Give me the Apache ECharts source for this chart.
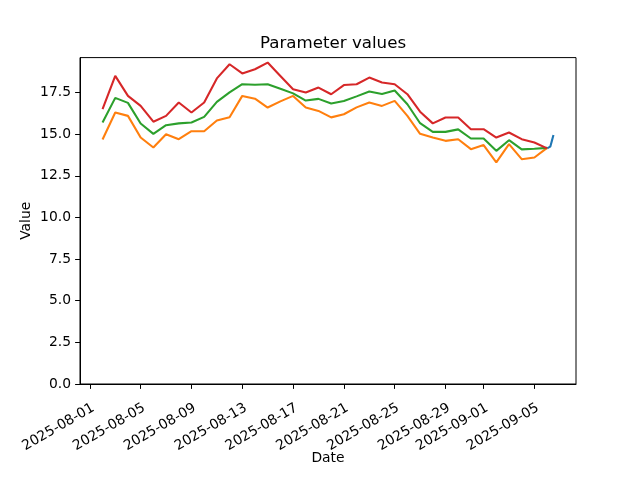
<!DOCTYPE html>
<html>
<head>
<meta charset="utf-8">
<script src="https://cdn.jsdelivr.net/npm/echarts@6/dist/echarts.min.js"></script>
<style>html,body{margin:0;padding:0;background:#fff}#c{width:640px;height:480px}</style>
</head>
<body>
<div id="c"></div>
<script>
const dates = ['2025-08-02','2025-08-03','2025-08-04','2025-08-05','2025-08-06','2025-08-07','2025-08-08','2025-08-09','2025-08-10','2025-08-11','2025-08-12','2025-08-13','2025-08-14','2025-08-15','2025-08-16','2025-08-17','2025-08-18','2025-08-19','2025-08-20','2025-08-21','2025-08-22','2025-08-23','2025-08-24','2025-08-25','2025-08-26','2025-08-27','2025-08-28','2025-08-29','2025-08-30','2025-08-31','2025-09-01','2025-09-02','2025-09-03','2025-09-04','2025-09-05','2025-09-06'];
const redValues = [16.5,18.5,17.3,16.7,15.75,16.1,16.9,16.3,16.9,18.35,19.2,18.65,18.9,19.3,18.5,17.7,17.5,17.8,17.4,17.95,18.0,18.4,18.1,18.0,17.4,16.35,15.65,16.0,16.0,15.3,15.3,14.8,15.1,14.7,14.5,14.15];
const greenValues = [15.7,17.18,16.88,15.64,15.02,15.54,15.65,15.7,16.04,16.94,17.51,18.0,17.97,18.0,17.73,17.45,17.02,17.12,16.84,16.99,17.27,17.56,17.41,17.62,16.8,15.66,15.14,15.14,15.29,14.74,14.74,14.0,14.64,14.09,14.13,14.18];
const orangeValues = [14.68,16.3,16.1,14.8,14.2,15.0,14.7,15.18,15.18,15.82,16.02,17.3,17.13,16.6,16.97,17.3,16.6,16.4,16.01,16.2,16.61,16.9,16.7,17.0,16.1,15.02,14.8,14.6,14.7,14.1,14.35,13.31,14.4,13.5,13.6,14.18];
const blueTimes = ['2025-09-06T00:00','2025-09-06T03:00','2025-09-06T06:00','2025-09-06T09:00','2025-09-06T12:00'];
const blueValues = [14.15,14.05,14.25,14.6,14.95];
const xTickLabels = ['2025-08-01','2025-08-05','2025-08-09','2025-08-13','2025-08-17','2025-08-21','2025-08-25','2025-08-29','2025-09-01','2025-09-05'];
const yTicks = [0,2.5,5,7.5,10,12.5,15,17.5];

function ts(s){ // parse as UTC
  const [d,t] = s.split('T');
  const [Y,M,D] = d.split('-').map(Number);
  let h=0,m=0;
  if(t){ [h,m] = t.split(':').map(Number); }
  return Date.UTC(Y,M-1,D,h,m);
}
function fmt(v){
  const d = new Date(v);
  const p = n => String(n).padStart(2,'0');
  return d.getUTCFullYear()+'-'+p(d.getUTCMonth()+1)+'-'+p(d.getUTCDate());
}
const pair = (xs, ys) => xs.map((x,i)=>[ts(x), ys[i]]);

const allX = dates.map(ts).concat(blueTimes.map(ts));
const allY = redValues.concat(greenValues, orangeValues, blueValues);
const xLo = Math.min(...allX), xHi = Math.max(...allX);
const yLo = Math.min(...allY), yHi = Math.max(...allY);
const xm = (xHi - xLo) * 0.05;
const yTop = yHi + (yHi - yLo) * 0.05;
const xTickVals = xTickLabels.map(ts);

const font = 'DejaVu Sans';
const fs = 13.89;
const chart = echarts.init(document.getElementById('c'), null, {renderer:'canvas'});
const lineS = (name, color, data) => ({
  name, type:'line', data, showSymbol:false, symbol:'none',
  lineStyle:{color, width:2.08}, itemStyle:{color}, animation:false
});
chart.setOption({
  animation:false,
  backgroundColor:'#fff',
  title:{text:'Parameter values', left:328, top:30, textAlign:'center',
    textStyle:{fontFamily:font, fontSize:16.67, fontWeight:'normal', color:'#000'}},
  grid:{left:80, right:64, top:57.6, bottom:96, show:true, borderColor:'#000', borderWidth:1, containLabel:false},
  xAxis:{
    type:'value', min:xLo - xm, max:xHi + xm, scale:true,
    name:'Date', nameLocation:'middle', nameGap:67, nameMoveOverlap:false,
    nameTextStyle:{fontFamily:font, fontSize:fs, color:'#000'},
    axisLine:{show:true, onZero:false, lineStyle:{color:'#000', width:1}},
    axisTick:{show:true, length:4.9, lineStyle:{color:'#000'}, customValues:xTickVals},
    axisLabel:{rotate:30, margin:17, align:'right', verticalAlign:'top', fontFamily:font, fontSize:fs, color:'#000',
      customValues:xTickVals, formatter:(v)=>fmt(v), hideOverlap:false},
    splitLine:{show:false}
  },
  yAxis:{
    type:'value', min:0, max:yTop,
    name:'Value', nameLocation:'middle', nameGap:47, nameRotate:90, nameMoveOverlap:false,
    nameTextStyle:{fontFamily:font, fontSize:fs, color:'#000'},
    axisLine:{show:true, lineStyle:{color:'#000', width:1}},
    axisTick:{show:true, length:4.9, lineStyle:{color:'#000'}, customValues:yTicks},
    axisLabel:{margin:9, fontFamily:font, fontSize:fs, color:'#000',
      customValues:yTicks, formatter:(v)=>Number(v).toFixed(1)},
    splitLine:{show:false}
  },
  series:[
    lineS('blue','#1f77b4', pair(blueTimes, blueValues)),
    lineS('orange','#ff7f0e', pair(dates, orangeValues)),
    lineS('green','#2ca02c', pair(dates, greenValues)),
    lineS('red','#d62728', pair(dates, redValues))
  ]
});
</script>
</body>
</html>
